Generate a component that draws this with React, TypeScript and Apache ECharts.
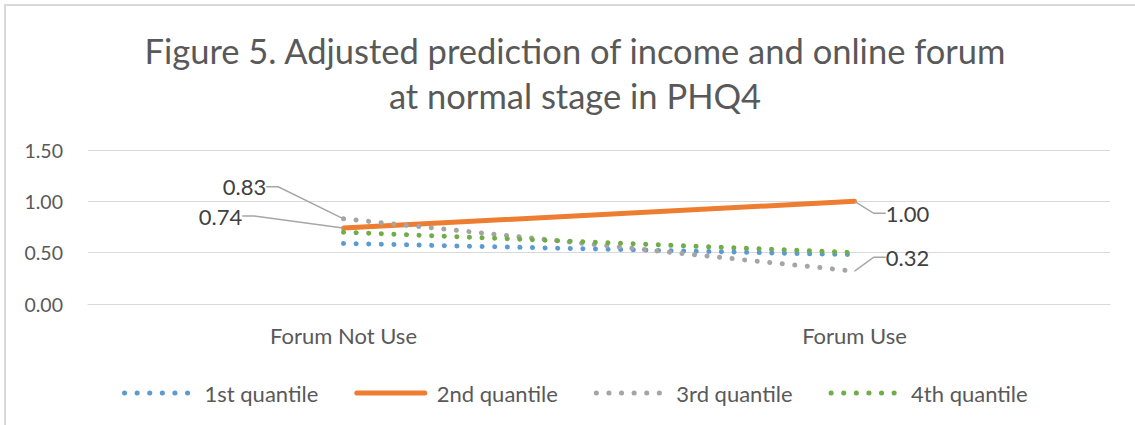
import React, { useEffect, useRef } from "react";
import * as echarts from "echarts";

const categories = ["Forum Not Use", "Forum Use"];
const seriesNames = ["1st quantile", "2nd quantile", "3rd quantile", "4th quantile"];
const q1 = [0.59, 0.48];
const q2 = [0.74, 1.0];
const q3 = [0.83, 0.32];
const q4 = [0.7, 0.5];
const yTicks = [0, 0.5, 1.0, 1.5];

const FONT = "Lato";

export default function App() {
  const ref = useRef<HTMLDivElement>(null);
  useEffect(() => {
    document.body.style.margin = "0";
    const chart = echarts.init(ref.current!, null, { renderer: "svg" });
    const dotted = (color: string) => ({
      color,
      width: 5,
      type: [0.1, 12.5] as any,
      cap: "round" as const,
    });
    const labelData = (vals: number[]) =>
      vals.map((v) => ({
        value: v,
        symbol: "circle",
        symbolSize: 1,
        label: { show: true, position: "inside" },
      }));
    const labelCommon = {
      show: true,
      formatter: (p: any) => Number(p.value).toFixed(2),
      color: "#404040",
      fontFamily: FONT,
      fontSize: 22,
      padding: [0, 7],
    };
    const labelLine = {
      show: true,
      length2: 12,
      smooth: false,
      lineStyle: { color: "#a6a6a6", width: 1.5 },
    };
    const off2 = [
      [-123, -12],
      [53, 12],
    ];
    const off3 = [
      [-99, -32],
      [53, -14],
    ];
    chart.setOption({
      animation: false,
      backgroundColor: "#ffffff",
      title: {
        text: "Figure 5. Adjusted prediction of income and online forum\nat normal stage in PHQ4",
        left: 570,
        textAlign: "center",
        top: 23,
        textStyle: {
          fontFamily: FONT,
          fontSize: 34.5,
          fontWeight: "normal",
          color: "#595959",
          lineHeight: 45,
        },
      },
      graphic: [
        { type: "line", shape: { x1: 4, y1: 5, x2: 1135, y2: 5 }, style: { stroke: "#d9d9d9", lineWidth: 2 } },
        { type: "line", shape: { x1: 5, y1: 4, x2: 5, y2: 425 }, style: { stroke: "#d9d9d9", lineWidth: 2 } },
      ],
      grid: { left: 88, right: 25, top: 150, bottom: 121, containLabel: false },
      legend: {
        left: 117,
        top: 377,
        itemWidth: 68,
        itemHeight: 14,
        itemGap: 36,
        data: seriesNames,
        itemStyle: { opacity: 0 },
        lineStyle: { width: 5, cap: "round" },
        textStyle: {
          fontFamily: FONT,
          fontSize: 22,
          color: "#595959",
          padding: [0, 0, 0, 7],
        },
      },
      xAxis: {
        type: "category",
        data: categories,
        boundaryGap: true,
        axisTick: { show: false },
        axisLine: { show: true, lineStyle: { color: "#d9d9d9", width: 1 } },
        axisLabel: { fontFamily: FONT, fontSize: 22, color: "#595959", margin: 20 },
      },
      yAxis: {
        type: "value",
        min: yTicks[0],
        max: yTicks[yTicks.length - 1],
        interval: 0.5,
        axisLine: { show: false },
        axisTick: { show: false },
        splitLine: { lineStyle: { color: "#d9d9d9", width: 1 } },
        axisLabel: {
          fontFamily: FONT,
          fontSize: 19.5,
          color: "#595959",
          margin: 25,
          formatter: (v: number) => v.toFixed(2),
        },
      },
      series: [
        {
          name: seriesNames[0],
          type: "line",
          data: q1,
          symbol: "none",
          lineStyle: dotted("#5b9bd5"),
          itemStyle: { color: "#5b9bd5" },
        },
        {
          name: seriesNames[1],
          type: "line",
          data: labelData(q2),
          symbol: "none",
          lineStyle: { color: "#ed7d31", width: 5, cap: "round" },
          itemStyle: { color: "#ed7d31" },
          label: labelCommon,
          labelLine,
          labelLayout: (p: any) => {
            const o = off2[p.dataIndex];
            return { dx: o[0], dy: o[1] };
          },
        },
        {
          name: seriesNames[2],
          type: "line",
          data: labelData(q3),
          symbol: "none",
          lineStyle: dotted("#a5a5a5"),
          itemStyle: { color: "#a5a5a5" },
          label: labelCommon,
          labelLine,
          labelLayout: (p: any) => {
            const o = off3[p.dataIndex];
            return { dx: o[0], dy: o[1] };
          },
        },
        {
          name: seriesNames[3],
          type: "line",
          data: q4,
          symbol: "none",
          lineStyle: dotted("#70ad47"),
          itemStyle: { color: "#70ad47" },
        },
      ],
    });
    return () => chart.dispose();
  }, []);
  return <div ref={ref} style={{ width: 1135, height: 425 }} />;
}
